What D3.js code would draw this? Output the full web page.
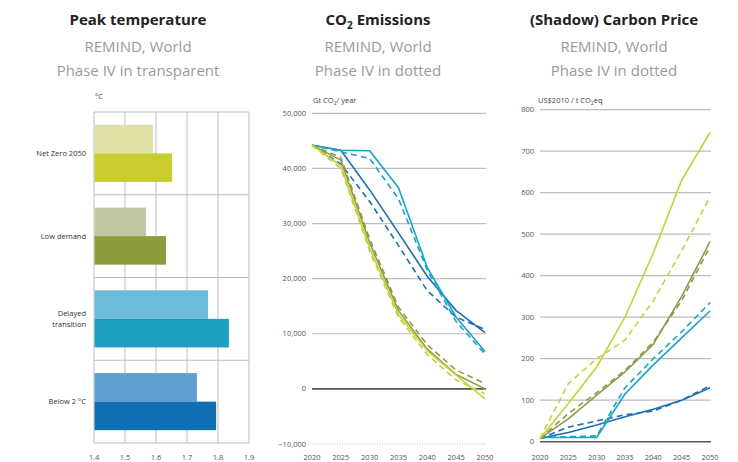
<!DOCTYPE html>
<html lang="en">
<head>
  <meta charset="UTF-8">
  <title>REMIND World scenarios</title>
  <script src="https://d3js.org/d3.v7.min.js"></script>
  <style>
    body { margin: 0; background: #fff; }
    svg { display: block; font-family: "Open Sans", sans-serif; }
    .title { font-size: 15px; font-weight: bold; fill: #222; }
    .sub { font-size: 15px; fill: #9a9a9a; }
    .unit { font-size: 7.5px; fill: #444; }
    .tick { font-size: 7.5px; fill: #555; }
    .cat { font-size: 7.5px; fill: #333; }
  </style>
</head>
<body>
  <svg width="738" height="462"></svg>

  <script>
    // --- data ---
    const categories = ["Net Zero 2050", "Low demand", "Delayed transition", "Below 2 °C"];
    const peakPhase4 = [1.59, 1.568, 1.768, 1.732];   // transparent bars
    const peakCurrent = [1.652, 1.632, 1.835, 1.794]; // solid bars
    const tempTicks = [1.4, 1.5, 1.6, 1.7, 1.8, 1.9];

    const years = [2020, 2025, 2030, 2035, 2040, 2045, 2050];
    const yearTicks = [2020, 2025, 2030, 2035, 2040, 2045, 2050];

    // CO2 emissions, Gt CO2/year (solid = current, dotted = Phase IV)
    const co2NetZero = [44200, 40500, 25500, 13500, 6900, 2500, -1800];
    const co2NetZeroP4 = [44200, 40000, 25000, 13000, 6200, 1600, -900];
    const co2LowDemand = [44200, 41500, 26500, 14200, 7200, 2600, 0];
    const co2LowDemandP4 = [44200, 42000, 27200, 14800, 8000, 3400, 1000];
    const co2Delayed = [44200, 43300, 43200, 36500, 22000, 13000, 6800];
    const co2DelayedP4 = [44200, 43000, 41800, 34500, 21500, 12200, 6300];
    const co2Below2 = [44200, 43300, 36100, 28300, 20400, 14200, 10200];
    const co2Below2P4 = [44200, 40800, 34000, 26000, 17800, 13000, 10800];
    const co2Ticks = [-10000, 0, 10000, 20000, 30000, 40000, 50000];

    // Carbon price, US$2010 / t CO2eq
    const priceNetZero = [8, 92, 180, 300, 455, 630, 745];
    const priceNetZeroP4 = [8, 140, 200, 245, 340, 460, 590];
    const priceLowDemand = [8, 55, 112, 168, 235, 350, 482];
    const priceLowDemandP4 = [8, 68, 118, 172, 240, 340, 470];
    const priceDelayed = [10, 10, 10, 115, 185, 250, 315];
    const priceDelayedP4 = [10, 12, 14, 130, 200, 265, 335];
    const priceBelow2 = [8, 22, 40, 60, 78, 100, 130];
    const priceBelow2P4 = [8, 35, 50, 65, 74, 100, 135];
    const priceTicks = [0, 100, 200, 300, 400, 500, 600, 700, 800];

    // --- styles ---
    const solidColors = ["#c8cc2e", "#8e9b3c", "#1e9fc2", "#0f6fb3"];
    const lightColors = ["#dfe0a6", "#c1c6a0", "#6cbbd8", "#5e9fd3"];
    const lineColors = ["#c6d236", "#8f9a48", "#1aa3c9", "#1a6fb8"];
    const gridColor = "#bdbdbd";

    const svg = d3.select("svg");

    // titles
    function titles(cx, main, sub2) {
      const t = svg.append("text").attr("class", "title")
        .attr("x", cx).attr("y", 25).attr("text-anchor", "middle");
      main.forEach(p => {
        const s = t.append("tspan").text(p.t);
        if (p.sub) s.attr("font-size", 10).attr("dy", 4);
        else if (p.after) s.attr("dy", -4);
      });
      svg.append("text").attr("class", "sub").attr("x", cx).attr("y", 52)
        .attr("text-anchor", "middle").text("REMIND, World");
      svg.append("text").attr("class", "sub").attr("x", cx).attr("y", 76)
        .attr("text-anchor", "middle").text(sub2);
    }
    titles(138, [{ t: "Peak temperature" }], "Phase IV in transparent");
    titles(378, [{ t: "CO" }, { t: "2", sub: true }, { t: " Emissions", after: true }], "Phase IV in dotted");
    titles(614, [{ t: "(Shadow) Carbon Price" }], "Phase IV in dotted");

    // ---------- left: peak temperature ----------
    const xT = d3.scaleLinear().domain([1.4, 1.9]).range([94, 249]);
    const yC = d3.scaleBand().domain(categories).range([112, 443]);
    const ySub = d3.scaleBand().domain(["p4", "cur"]).range([0, yC.bandwidth()]).paddingOuter(0.45).paddingInner(0);

    svg.append("text").attr("class", "unit").attr("x", 95).attr("y", 99).text("°C");

    const left = svg.append("g");
    left.selectAll("line.v").data(tempTicks).join("line")
      .attr("x1", d => xT(d)).attr("x2", d => xT(d))
      .attr("y1", 112).attr("y2", 443)
      .attr("stroke", gridColor).attr("stroke-width", 1);
    left.selectAll("line.h").data(categories.concat(["end"])).join("line")
      .attr("x1", 94).attr("x2", 249)
      .attr("y1", (d, i) => i < categories.length ? yC(d) : 443)
      .attr("y2", (d, i) => i < categories.length ? yC(d) : 443)
      .attr("stroke", gridColor).attr("stroke-width", 1);

    const barData = [];
    categories.forEach((c, i) => {
      barData.push({ cat: c, key: "p4", value: peakPhase4[i], color: lightColors[i] });
      barData.push({ cat: c, key: "cur", value: peakCurrent[i], color: solidColors[i] });
    });
    left.selectAll("rect").data(barData).join("rect")
      .attr("x", xT(1.4) + 0.5)
      .attr("y", d => yC(d.cat) + ySub(d.key))
      .attr("width", d => xT(d.value) - xT(1.4) - 0.5)
      .attr("height", ySub.bandwidth())
      .attr("fill", d => d.color);

    left.selectAll("text.cat").data(categories).join("text")
      .attr("class", "cat")
      .attr("text-anchor", "end")
      .attr("x", 86)
      .attr("y", d => yC(d) + yC.bandwidth() / 2 + 2.5)
      .each(function (d) {
        const parts = d === "Delayed transition" ? ["Delayed", "transition"] : [d];
        const el = d3.select(this);
        parts.forEach((p, k) => {
          el.append("tspan").attr("x", 86)
            .attr("dy", k === 0 ? (parts.length > 1 ? -5 : 0) : 11).text(p);
        });
      });

    left.selectAll("text.xt").data(tempTicks).join("text")
      .attr("class", "tick").attr("text-anchor", "middle")
      .attr("x", d => xT(d)).attr("y", 460)
      .text(d => d.toFixed(1));

    // ---------- shared line chart helper ----------
    function lineChart(opts) {
      const g = svg.append("g");
      const x = d3.scaleLinear().domain([2020, 2050]).range(opts.xr);
      const y = d3.scaleLinear().domain(opts.yd).range(opts.yr);

      g.selectAll("line.grid").data(opts.ticks).join("line")
        .attr("x1", opts.xr[0]).attr("x2", opts.xr[1] + 1)
        .attr("y1", d => y(d)).attr("y2", d => y(d))
        .attr("stroke", d => d === 0 ? "#555" : gridColor)
        .attr("stroke-width", d => d === 0 ? 1.6 : 1.2)
        .attr("stroke-dasharray", d => d < 0 ? "1,1.5" : null);

      g.selectAll("text.yt").data(opts.ticks).join("text")
        .attr("class", "tick").attr("text-anchor", "end")
        .attr("x", opts.xr[0] - 6).attr("y", d => y(d) + 2.5)
        .text(opts.fmt);

      g.selectAll("text.xt").data(yearTicks).join("text")
        .attr("class", "tick").attr("text-anchor", "middle")
        .attr("x", d => x(d)).attr("y", 460)
        .text(d => d);

      const line = d3.line().x((d, i) => x(years[i])).y(d => y(d));
      g.selectAll("path.series").data(opts.series).join("path")
        .attr("fill", "none")
        .attr("stroke", d => d.color)
        .attr("stroke-width", 1.6)
        .attr("stroke-linejoin", "round")
        .attr("stroke-dasharray", d => d.dashed ? "6,4" : null)
        .attr("d", d => line(d.values));
      return g;
    }

    lineChart({
      xr: [312, 485], yd: [-10000, 50000], yr: [444, 113.3],
      ticks: co2Ticks, fmt: d => d3.format(",")(d),
      series: [
        { values: co2Below2, color: lineColors[3] },
        { values: co2Below2P4, color: lineColors[3], dashed: true },
        { values: co2Delayed, color: lineColors[2] },
        { values: co2DelayedP4, color: lineColors[2], dashed: true },
        { values: co2LowDemand, color: lineColors[1] },
        { values: co2LowDemandP4, color: lineColors[1], dashed: true },
        { values: co2NetZero, color: lineColors[0] },
        { values: co2NetZeroP4, color: lineColors[0], dashed: true }
      ]
    });
    const u1 = svg.append("text").attr("class", "unit").attr("x", 313).attr("y", 103);
    u1.append("tspan").text("Gt CO");
    u1.append("tspan").attr("font-size", 5).attr("dy", 2).text("2");
    u1.append("tspan").attr("dy", -2).text("/ year");

    lineChart({
      xr: [540, 710], yd: [0, 800], yr: [441.7, 109.7],
      ticks: priceTicks, fmt: d => d,
      series: [
        { values: priceBelow2, color: lineColors[3] },
        { values: priceBelow2P4, color: lineColors[3], dashed: true },
        { values: priceDelayed, color: lineColors[2] },
        { values: priceDelayedP4, color: lineColors[2], dashed: true },
        { values: priceLowDemand, color: lineColors[1] },
        { values: priceLowDemandP4, color: lineColors[1], dashed: true },
        { values: priceNetZero, color: lineColors[0] },
        { values: priceNetZeroP4, color: lineColors[0], dashed: true }
      ]
    });
    const u2 = svg.append("text").attr("class", "unit").attr("x", 538).attr("y", 103);
    u2.append("tspan").text("US$2010 / t CO");
    u2.append("tspan").attr("font-size", 5).attr("dy", 2).text("2");
    u2.append("tspan").attr("dy", -2).text("eq");
  </script>
</body>
</html>
